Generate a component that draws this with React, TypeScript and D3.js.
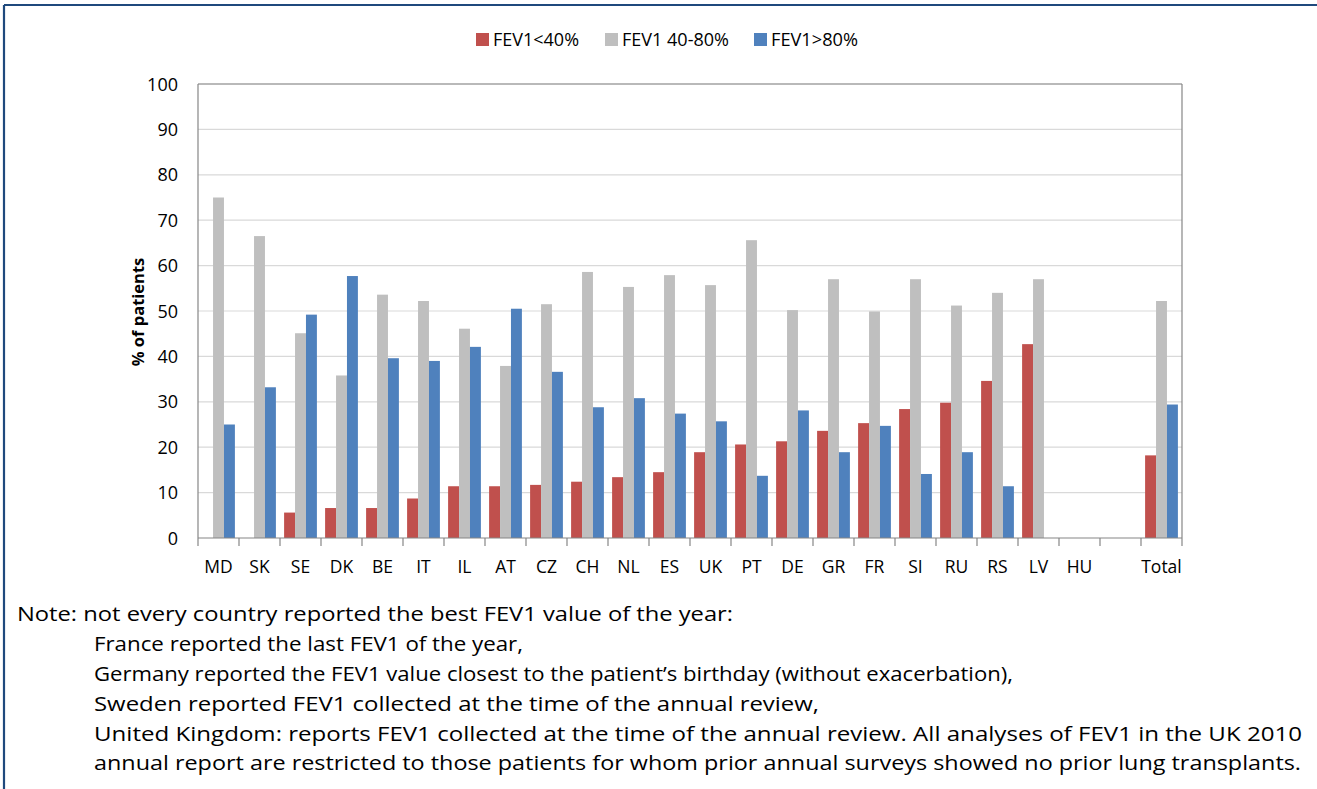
import React from "react";
import * as d3 from "d3";

const categories = ["MD","SK","SE","DK","BE","IT","IL","AT","CZ","CH","NL","ES","UK","PT","DE","GR","FR","SI","RU","RS","LV","HU"," ","Total"];
const seriesNames = ["FEV1<40%","FEV1 40-80%","FEV1>80%"];
const seriesColors = ["#c0504d","#bfbfbf","#4f81bd"];
const fevLow: (number|null)[] = [null,null,5.6,6.6,6.6,8.7,11.4,11.4,11.7,12.4,13.4,14.5,18.9,20.6,21.3,23.6,25.3,28.4,29.8,34.6,42.7,null,null,18.2];
const fevMid: (number|null)[] = [75.0,66.5,45.1,35.8,53.6,52.2,46.1,37.9,51.5,58.6,55.3,57.9,55.7,65.6,50.2,57.0,49.9,57.0,51.2,54.0,57.0,null,null,52.2];
const fevHigh: (number|null)[] = [25.0,33.2,49.2,57.7,39.6,39.0,42.1,50.5,36.6,28.8,30.8,27.4,25.7,13.7,28.1,18.9,24.7,14.1,18.9,11.4,null,null,null,29.4];
const yTicks = [0,10,20,30,40,50,60,70,80,90,100];
const noteLines = [
  "Note: not every country reported the best FEV1 value of the year:",
  "France reported the last FEV1 of the year,",
  "Germany reported the FEV1 value closest to the patient\u2019s birthday (without exacerbation),",
  "Sweden reported FEV1 collected at the time of the annual review,",
  "United Kingdom: reports FEV1 collected at the time of the annual review. All analyses of FEV1 in the UK 2010",
  "annual report are restricted to those patients for whom prior annual surveys showed no prior lung transplants.",
];

const W = 1317, H = 789;
const left = 198, right = 1182, top = 84, bottom = 538;
const FONT = "'Open Sans', sans-serif";

export default function App() {
  const x0 = d3.scaleBand<string>().domain(categories).range([left, right]).paddingInner(0).paddingOuter(0);
  const bw = x0.bandwidth();
  const x1 = d3.scaleBand<string>().domain(seriesNames).range([bw * 0.1, bw * 0.9]).padding(0);
  const y = d3.scaleLinear().domain([0, 100]).range([bottom, top]);
  const allSeries = [fevLow, fevMid, fevHigh];

  const noteX = [17, 94, 94, 94, 94, 94];
  const noteY = [621, 651, 681, 711, 741, 770];
  const noteLen: number[] = [716, 429, 919, 725, 1208, 1207];
  const legendX = [476, 605, 754];

  return (
    <div style={{ position: "absolute", left: 0, top: 0 }}>
      <svg width={W} height={H} style={{ display: "block", background: "#fff" }}>
        <rect x={0} y={0} width={W} height={H} fill="#fff" />
        <line x1={4} y1={5} x2={W} y2={5} stroke="#1f497d" strokeWidth={2.2} />
        <line x1={4} y1={5} x2={4} y2={H} stroke="#1f497d" strokeWidth={2.2} />

        {seriesNames.map((s, i) => (
          <g key={s}>
            <rect x={legendX[i]} y={33} width={13} height={13} fill={seriesColors[i]} />
            <text x={legendX[i] + 17} y={46} fontFamily={FONT} fontSize={17.5} fill="#000"
              textLength={[86, 107, 87][i]} lengthAdjust="spacingAndGlyphs">{s}</text>
          </g>
        ))}

        {yTicks.filter(t => t > 0).map(t => (
          <line key={t} x1={left} x2={right} y1={y(t)} y2={y(t)} stroke="#d9d9d9" strokeWidth={1.2} />
        ))}
        <line x1={left} x2={right} y1={top} y2={top} stroke="#868686" strokeWidth={1.2} />
        <line x1={right} x2={right} y1={top} y2={bottom} stroke="#868686" strokeWidth={1.2} />

        {allSeries.map((vals, si) =>
          vals.map((v, ci) =>
            v == null ? null : (
              <rect
                key={`${si}-${ci}`}
                x={(x0(categories[ci]) as number) + (x1(seriesNames[si]) as number)}
                y={y(v)}
                width={x1.bandwidth()}
                height={y(0) - y(v)}
                fill={seriesColors[si]}
              />
            )
          )
        )}

        <line x1={left} x2={left} y1={top} y2={bottom} stroke="#868686" strokeWidth={1.2} />
        <line x1={left} x2={right} y1={bottom} y2={bottom} stroke="#868686" strokeWidth={1.2} />
        {categories.map((c, i) => (
          <line key={"t" + i} x1={x0(c) as number} x2={x0(c) as number} y1={bottom} y2={bottom + 8} stroke="#868686" strokeWidth={1.2} />
        ))}
        <line x1={right} x2={right} y1={bottom} y2={bottom + 8} stroke="#868686" strokeWidth={1.2} />

        {yTicks.map(t => (
          <text key={t} x={178} y={y(t) + 6.5} textAnchor="end" fontFamily={FONT} fontSize={18} fill="#000">{t}</text>
        ))}
        {categories.map(c => (
          <text key={"l" + c} x={(x0(c) as number) + bw / 2} y={573} textAnchor="middle" fontFamily={FONT} fontSize={17.5} fill="#000">{c.trim()}</text>
        ))}

        <text transform={`translate(144,312) rotate(-90)`} textAnchor="middle" fontFamily={FONT} fontSize={16.5} fontWeight="bold" fill="#000">% of patients</text>

        {noteLines.map((t, i) => (
          <text key={"n" + i} x={noteX[i]} y={noteY[i]} fontFamily={FONT} fontSize={19.5} fill="#000"
            textLength={noteLen[i]} lengthAdjust="spacingAndGlyphs">{t}</text>
        ))}
      </svg>
    </div>
  );
}
